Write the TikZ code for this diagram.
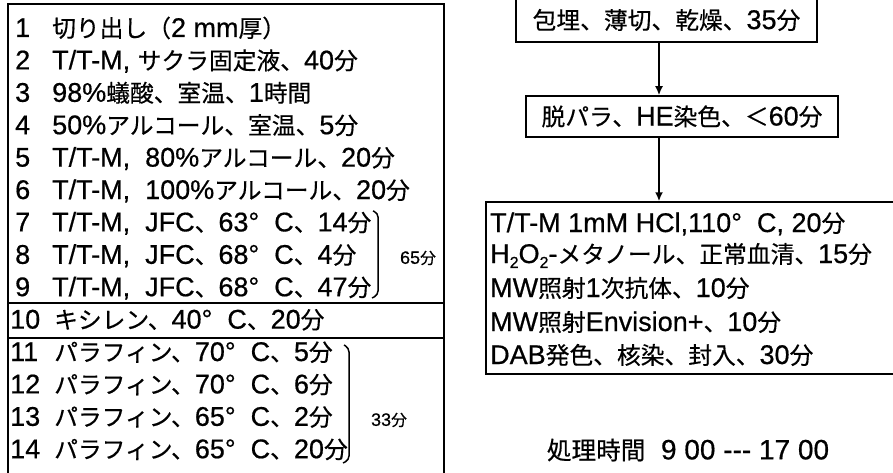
\documentclass[tikz,border=0pt]{standalone}
\usepackage{fontspec}
\setmainfont[FakeBold=0.6]{Liberation Sans}
\newfontfamily\latfont[FakeBold=0.6]{Liberation Sans}
\newfontfamily\cjkfontA[Scale=0.88,FakeBold=0.4]{Noto Sans CJK JP}
\newfontfamily\cjkfontB[Scale=0.88,FakeBold=0.4]{Noto Sans CJK JP}
\newcommand\cjkfont{\cjkfontA}
\usetikzlibrary{arrows.meta}
\XeTeXinterchartokenstate=1
\newXeTeXintercharclass\cjkclass
\makeatletter
\def\setcjkrange#1#2{\count@=#1\relax\loop\XeTeXcharclass\count@=\cjkclass\ifnum\count@<#2\relax\advance\count@ 1\repeat}
\setcjkrange{"3000}{"30FF}
\setcjkrange{"4E00}{"9FFF}
\setcjkrange{"FF00}{"FFEF}
\makeatother
\XeTeXinterchartoks 0 \cjkclass={\cjkfont}
\XeTeXinterchartoks 4095 \cjkclass={\cjkfont}
\XeTeXinterchartoks \cjkclass 0={\latfont}
\XeTeXinterchartoks \cjkclass 4095={\latfont}
\newcommand\subtwo{\raisebox{-0.35ex}{\fontsize{16}{18}\selectfont 2}}
\tikzset{
  every node/.style={font=\fontsize{27}{30}\selectfont, inner sep=0pt},
  frame/.style={line width=1.6pt},
  rowtxt/.style={anchor=base west},
  stepbox/.style={draw, line width=1.5pt, rectangle},
  bigcjk/.style={execute at begin node=\renewcommand\cjkfont{\cjkfontB}},
  flow/.style={line width=2.2pt, -{Latex[length=9pt,width=8pt]}},
  brace/.style={line width=1.5pt, rounded corners=4pt},
  small/.style={font=\fontsize{18}{20}\selectfont},
}
\begin{document}
\begin{tikzpicture}[x=1pt,y=-1pt]
\useasboundingbox (0,0) rectangle (893,473);
% left frame
\draw[frame] (8,473) -- (8,4) -- (444,4) -- (444,473);
\draw[frame] (8,303) -- (444,303);
\draw[frame] (8,338) -- (444,338);
% rows
\node[rowtxt] (n1) at (15,37) {1};
\node[rowtxt] (t1) at (52,37) {切り出し（2 mm厚）};
\node[rowtxt] (n2) at (15,69.4) {2};
\node[rowtxt] (t2) at (52,69.4) {T/T-M, サクラ固定液、40分};
\node[rowtxt] (n3) at (15,101.8) {3};
\node[rowtxt] (t3) at (52,101.8) {98\%蟻酸、室温、1時間};
\node[rowtxt] (n4) at (15,134.2) {4};
\node[rowtxt] (t4) at (52,134.2) {50\%アルコール、室温、5分};
\node[rowtxt] (n5) at (15,166.6) {5};
\node[rowtxt] (t5) at (52,166.6) {T/T-M,\ \ 80\%アルコール、20分};
\node[rowtxt] (n6) at (15,199) {6};
\node[rowtxt] (t6) at (52,199) {T/T-M,\ \ 100\%アルコール、20分};
\node[rowtxt] (n7) at (15,231.4) {7};
\node[rowtxt] (t7) at (52,231.4) {T/T-M,\ \ JFC、63°\ \ C、14分};
\node[rowtxt] (n8) at (15,263.8) {8};
\node[rowtxt] (t8) at (52,263.8) {T/T-M,\ \ JFC、68°\ \ C、4分};
\node[rowtxt] (n9) at (15,296.2) {9};
\node[rowtxt] (t9) at (52,296.2) {T/T-M,\ \ JFC、68°\ \ C、47分};
\node[rowtxt] (n10) at (10,328.6) {10};
\node[rowtxt] (t10) at (54,328.6) {キシレン、40°\ \ C、20分};
\node[rowtxt] (n11) at (10,361) {11};
\node[rowtxt] (t11) at (54,361) {パラフィン、70°\ \ C、5分};
\node[rowtxt] (n12) at (10,393.4) {12};
\node[rowtxt] (t12) at (54,393.4) {パラフィン、70°\ \ C、6分};
\node[rowtxt] (n13) at (10,425.8) {13};
\node[rowtxt] (t13) at (54,425.8) {パラフィン、65°\ \ C、2分};
\node[rowtxt] (n14) at (10,458.2) {14};
\node[rowtxt] (t14) at (54,458.2) {パラフィン、65°\ \ C、20分};
% braces
\draw[brace] (373,211) -- (378,213) -- (378,295) -- (372,298);
\node[small] (g1) at (418,258) {65分};
\draw[brace] (344,345) -- (349,348) -- (349,460) -- (343,463);
\node[small] (g2) at (389,420) {33分};
% right flow
\node[stepbox, bigcjk, minimum width=301pt, minimum height=44pt] (b1) at (666.5,20) {包埋、薄切、乾燥、35分};
\node[stepbox, bigcjk, minimum width=312pt, minimum height=41pt] (b2) at (682,116.5) {脱パラ、HE染色、＜60分};
\node[stepbox, minimum width=411pt, minimum height=172pt] (b3) at (691.5,288) {};
\coordinate (ax) at (659,0);
\draw[flow] (b1.south -| ax) -- (b2.north -| ax);
\draw[flow] (b2.south -| ax) -- (b3.north -| ax);
\node[rowtxt] (r1) at (490,232) {T/T-M 1mM HCl,110°\ \ C, 20分};
\node[rowtxt] (r2) at (490,263) {H\subtwo O\subtwo -メタノール、正常血清、15分};
\node[rowtxt] (r3) at (490,297) {MW照射1次抗体、10分};
\node[rowtxt] (r4) at (490,331) {MW照射Envision+、10分};
\node[rowtxt] (r5) at (490,364) {DAB発色、核染、封入、30分};
\node[bigcjk, font=\fontsize{28}{30}\selectfont] (tm) at (688,450) {処理時間\ \ 9 00 --- 17 00};
\end{tikzpicture}
\end{document}
